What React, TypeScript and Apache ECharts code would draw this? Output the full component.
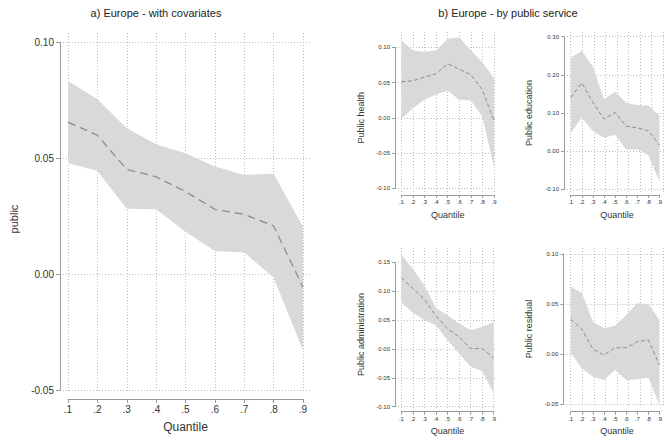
import React, { useEffect, useRef } from "react";
import * as echarts from "echarts";

const quantiles = [0.1, 0.2, 0.3, 0.4, 0.5, 0.6, 0.7, 0.8, 0.9];
const xTickLabels = [".1", ".2", ".3", ".4", ".5", ".6", ".7", ".8", ".9"];

const europeEst = [0.0655, 0.0598, 0.0451, 0.0419, 0.0355, 0.0279, 0.0257, 0.0207, -0.0057];
const europeLo = [0.0478, 0.0444, 0.0281, 0.0279, 0.0182, 0.0099, 0.0093, -0.0016, -0.0328];
const europeHi = [0.0832, 0.0753, 0.0628, 0.0559, 0.052, 0.0463, 0.0427, 0.0432, 0.0204];

const healthEst = [0.051, 0.0525, 0.0577, 0.0624, 0.0766, 0.069, 0.061, 0.0397, -0.0043];
const healthLo = [-0.0014, 0.0137, 0.0255, 0.033, 0.0383, 0.0255, 0.0246, 0.0019, -0.07];
const healthHi = [0.1097, 0.0955, 0.0936, 0.0955, 0.112, 0.1144, 0.0955, 0.0785, 0.0563];

const educEst = [0.1407, 0.179, 0.1276, 0.0839, 0.1014, 0.0655, 0.061, 0.0533, 0.0157];
const educLo = [0.0463, 0.088, 0.0524, 0.035, 0.0428, 0.0044, 0.0052, -0.0105, -0.08];
const educHi = [0.2447, 0.263, 0.221, 0.1363, 0.1555, 0.1267, 0.1206, 0.1197, 0.0926];

const adminEst = [0.1235, 0.1045, 0.086, 0.057, 0.0353, 0.0208, 0.0006, 0.0006, -0.0155];
const adminLo = [0.0803, 0.063, 0.0497, 0.041, 0.015, -0.008, -0.031, -0.038, -0.077];
const adminHi = [0.1633, 0.139, 0.11, 0.071, 0.0583, 0.044, 0.0324, 0.038, 0.0467];

const residEst = [0.0347, 0.025, 0.005, -0.001, 0.0063, 0.0063, 0.0123, 0.014, -0.011];
const residLo = [0.0013, -0.0143, -0.0227, -0.026, -0.016, -0.026, -0.0253, -0.0237, -0.051];
const residHi = [0.0673, 0.0613, 0.0323, 0.0257, 0.0283, 0.039, 0.0507, 0.05, 0.034];

const europeYTicks = [-0.05, 0.0, 0.05, 0.1];
const healthYTicks = [-0.1, -0.05, 0.0, 0.05, 0.1];
const educYTicks = [-0.1, 0.0, 0.1, 0.2, 0.3];
const adminYTicks = [-0.1, -0.05, 0.0, 0.05, 0.1, 0.15];
const residYTicks = [-0.05, 0.0, 0.05, 0.1];

const FONT = '"Liberation Sans", Arial, Helvetica, sans-serif';
const AXIS_COLOR = "#9a9a9a";
const GRID_COLOR = "#bdbdbd";
const TEXT_COLOR = "#333";
const BAND_COLOR = "#d9d9d9";
const LINE_COLOR = "#8c8c8c";

type Layout = {
  yAxisX: number; x01: number; x09: number; yTop: number; yBot: number;
  vTop: number; vBot: number; hRight: number; xAxisY: number; big: boolean;
  yTitle: string; yTitleX: number;
};

const panels = [
  { est: europeEst, lo: europeLo, hi: europeHi, ticks: europeYTicks,
    layout: { yAxisX: 60, x01: 68, x09: 303, yTop: 42, yBot: 390, vTop: 33, vBot: 392, hRight: 310, xAxisY: 399, big: true, yTitle: "public", yTitleX: 14 } as Layout },
  { est: healthEst, lo: healthLo, hi: healthHi, ticks: healthYTicks,
    layout: { yAxisX: 395, x01: 401.3, x09: 494, yTop: 47.3, yBot: 188.3, vTop: 32, vBot: 192, hRight: 497, xAxisY: 195, big: false, yTitle: "Public health", yTitleX: 361 } as Layout },
  { est: educEst, lo: educLo, hi: educHi, ticks: educYTicks,
    layout: { yAxisX: 564, x01: 570.7, x09: 663.3, yTop: 36.7, yBot: 189.3, vTop: 32, vBot: 192, hRight: 668, xAxisY: 195, big: false, yTitle: "Public education", yTitleX: 529 } as Layout },
  { est: adminEst, lo: adminLo, hi: adminHi, ticks: adminYTicks,
    layout: { yAxisX: 395, x01: 401.3, x09: 493.7, yTop: 262.3, yBot: 406.7, vTop: 248, vBot: 409, hRight: 497, xAxisY: 411.7, big: false, yTitle: "Public administration", yTitleX: 361 } as Layout },
  { est: residEst, lo: residLo, hi: residHi, ticks: residYTicks,
    layout: { yAxisX: 563.3, x01: 570.7, x09: 663.3, yTop: 254, yBot: 404, vTop: 248, vBot: 407, hRight: 668, xAxisY: 411.7, big: false, yTitle: "Public residual", yTitleX: 529 } as Layout },
];

function buildOption() {
  const grid: any[] = [];
  const xAxis: any[] = [];
  const yAxis: any[] = [];
  const series: any[] = [];
  const graphic: any[] = [];

  panels.forEach((p, i) => {
    const L = p.layout;
    const ymin = p.ticks[0];
    const ymax = p.ticks[p.ticks.length - 1];
    const yint = +(p.ticks[1] - p.ticks[0]).toFixed(4);
    const tickFont = L.big ? 10 : 6;
    const g0 = i * 3;

    grid.push({ left: L.x01, top: L.yTop, width: L.x09 - L.x01, height: L.yBot - L.yTop });
    grid.push({ left: L.x01, top: L.vTop, width: L.x09 - L.x01, height: L.vBot - L.vTop });
    grid.push({ left: L.yAxisX, top: L.yTop, width: L.hRight - L.yAxisX, height: L.yBot - L.yTop });

    xAxis.push({
      gridIndex: g0, type: "value", min: 0.1, max: 0.9, interval: 0.1,
      position: "bottom",
      offset: L.xAxisY - L.yBot,
      axisLine: { show: true, onZero: false, lineStyle: { color: AXIS_COLOR, width: 1 } },
      axisTick: { show: true, length: L.big ? 4 : 3, lineStyle: { color: AXIS_COLOR } },
      axisLabel: {
        show: true, fontSize: tickFont, fontFamily: FONT, color: TEXT_COLOR, margin: L.big ? 5 : 4,
        formatter: (v: number) => xTickLabels[Math.round(v * 10) - 1] ?? "",
      },
      splitLine: { show: false },
    });
    yAxis.push({
      gridIndex: g0, type: "value", min: ymin, max: ymax, interval: yint,
      position: "left",
      offset: L.x01 - L.yAxisX,
      axisLine: { show: true, onZero: false, lineStyle: { color: AXIS_COLOR, width: 1 } },
      axisTick: { show: true, length: L.big ? 4 : 3, lineStyle: { color: AXIS_COLOR } },
      axisLabel: {
        show: true, fontSize: tickFont, fontFamily: FONT, color: TEXT_COLOR, margin: L.big ? 6 : 5,
        formatter: (v: number) => (Math.abs(v) < 1e-9 ? 0 : v).toFixed(2),
      },
      splitLine: { show: false },
    });

    xAxis.push({
      gridIndex: g0 + 1, type: "value", min: 0.1, max: 0.9, interval: 0.1,
      axisLine: { show: false, onZero: false }, axisTick: { show: false }, axisLabel: { show: false },
      splitLine: { show: true, lineStyle: { color: GRID_COLOR, type: [1, 2], width: 1 } },
    });
    yAxis.push({ gridIndex: g0 + 1, type: "value", min: 0, max: 1, show: false });

    xAxis.push({ gridIndex: g0 + 2, type: "value", min: 0, max: 1, show: false });
    yAxis.push({
      gridIndex: g0 + 2, type: "value", min: ymin, max: ymax, interval: yint,
      axisLine: { show: false, onZero: false }, axisTick: { show: false }, axisLabel: { show: false },
      splitLine: { show: true, lineStyle: { color: GRID_COLOR, type: [1, 2], width: 1 } },
    });

    const lo = p.lo;
    const hi = p.hi;
    series.push({
      type: "custom", xAxisIndex: g0, yAxisIndex: g0, silent: true, z: 1, clip: false,
      data: quantiles.map((q, k) => [q, lo[k], hi[k]]),
      encode: { x: 0, y: [1, 2] },
      renderItem: (params: any, api: any) => {
        if (params.dataIndex !== 0) return null;
        const pts: number[][] = [];
        for (let k = 0; k < quantiles.length; k++) pts.push(api.coord([quantiles[k], hi[k]]));
        for (let k = quantiles.length - 1; k >= 0; k--) pts.push(api.coord([quantiles[k], lo[k]]));
        return { type: "polygon", shape: { points: pts }, style: { fill: BAND_COLOR, stroke: null } };
      },
    });
    series.push({
      type: "line", xAxisIndex: g0, yAxisIndex: g0, symbol: "none",
      data: quantiles.map((q, k) => [q, p.est[k]]),
      lineStyle: { color: LINE_COLOR, width: L.big ? 1.3 : 1, type: L.big ? [8, 5] : [4, 2.5] },
      silent: true, z: 3,
    });

    graphic.push({
      type: "text", x: (L.x01 + L.x09) / 2, y: L.big ? 427 : L.xAxisY + 19.5,
      style: { text: "Quantile", font: `${L.big ? 12 : 9}px ${FONT}`, fill: TEXT_COLOR, align: "center", verticalAlign: "middle" },
    });
    graphic.push({
      type: "text", x: L.yTitleX, y: (L.yTop + L.yBot) / 2 + (L.big ? 3 : 0), rotation: Math.PI / 2,
      style: { text: L.yTitle, font: `${L.big ? 11 : 9}px ${FONT}`, fill: TEXT_COLOR, align: "center", verticalAlign: "middle" },
    });
  });

  graphic.push({
    type: "text", x: 156, y: 13,
    style: { text: "a) Europe - with covariates", font: `11px ${FONT}`, fill: "#222", align: "center", verticalAlign: "middle" },
  });
  graphic.push({
    type: "text", x: 508, y: 13,
    style: { text: "b) Europe - by public service", font: `11px ${FONT}`, fill: "#222", align: "center", verticalAlign: "middle" },
  });

  return { animation: false, backgroundColor: "#fff", grid, xAxis, yAxis, series, graphic };
}

export default function App() {
  const ref = useRef<HTMLDivElement>(null);
  useEffect(() => {
    if (!ref.current) return;
    const chart = echarts.init(ref.current, undefined, { renderer: "svg" });
    chart.setOption(buildOption() as any);
    return () => chart.dispose();
  }, []);
  return (
    <div
      ref={ref}
      style={{ position: "fixed", left: 0, top: 0, width: 665, height: 438, background: "#fff" }}
    />
  );
}
